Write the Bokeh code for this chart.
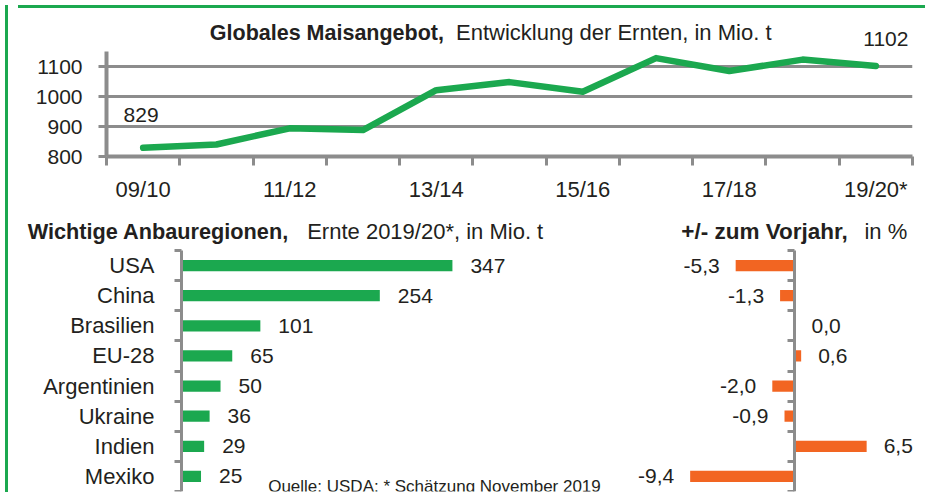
from bokeh.plotting import figure
from bokeh.models import Range1d, FixedTicker, ColumnDataSource, LabelSet, Label, Div
from bokeh.layouts import row, column
from bokeh.core.properties import value
from bokeh.embed import file_html
from bokeh.resources import INLINE

# ---------------- data ----------------
seasons = ["09/10", "10/11", "11/12", "12/13", "13/14", "14/15",
           "15/16", "16/17", "17/18", "18/19", "19/20*"]
supply = [829, 840, 894, 888, 1021, 1048, 1016, 1128, 1085, 1123, 1102]
supply_ticks = [800, 900, 1000, 1100]

regions = ["USA", "China", "Brasilien", "EU-28", "Argentinien",
           "Ukraine", "Indien", "Mexiko"]
harvest = [347, 254, 101, 65, 50, 36, 29, 25]
change = [-5.3, -1.3, 0.0, 0.6, -2.0, -0.9, 6.5, -9.4]

title_top_bold = "Globales Maisangebot,"
title_top_rest = "Entwicklung  der Ernten, in Mio. t"
title_left_bold = "Wichtige Anbauregionen,"
title_left_rest = "Ernte 2019/20*, in Mio. t"
title_right_bold = "+/- zum Vorjahr,"
title_right_rest = "in %"
source_note = "Quelle: USDA: * Schätzung November 2019"

# ---------------- style ----------------
GREEN = "#1ba84f"
ORANGE = "#f26522"
GRAY = "#8c8c8c"
TXT = "#231f20"
FONT = "Liberation Sans"


def style_fig(p):
    p.outline_line_color = None
    p.background_fill_color = "white"
    p.border_fill_color = "white"
    for g in p.grid:
        g.visible = False


def label(p, x, y, text, size, bold=False, align="left", x_off=0, y_off=0):
    p.add_layout(Label(x=x, y=y, text=text, x_offset=x_off, y_offset=y_off,
                       text_font=FONT, text_font_size=size, text_color=TXT,
                       text_font_style="bold" if bold else "normal",
                       text_align=align, text_baseline="middle"))


# ---------------- top: line chart ----------------
n = len(seasons)
xpos = [i + 0.5 for i in range(n)]
src_top = ColumnDataSource(dict(x=xpos, y=supply, season=seasons))

TOP_H, TOP_BB = 205, 62
y_axis_top = 1150                      # upper end of the drawn axis
y_top = 800 + (y_axis_top - 800) * (TOP_H - TOP_BB) / 105.0   # frame also holds the title

top = figure(width=907, height=TOP_H, x_range=Range1d(0, n), y_range=Range1d(800, y_top),
             output_backend="svg", toolbar_location=None,
             min_border_left=93, min_border_right=8, min_border_top=0, min_border_bottom=TOP_BB)
style_fig(top)
top.ygrid.visible = True
top.ygrid.grid_line_color = GRAY
top.ygrid.grid_line_width = 3

xa = top.xaxis[0]
xa.ticker = FixedTicker(ticks=xpos[0::2], minor_ticks=list(range(n + 1)))
xa.major_label_overrides = {xpos[i]: seasons[i] for i in range(0, n, 2)}
xa.major_tick_out = 0
xa.major_tick_in = 0
xa.minor_tick_out = 9
xa.minor_tick_in = 0
xa.minor_tick_line_color = GRAY
xa.minor_tick_line_width = 3
xa.axis_line_color = GRAY
xa.axis_line_width = 4
xa.major_label_text_font = FONT
xa.major_label_text_font_size = "22px"
xa.major_label_text_color = TXT
xa.major_label_standoff = 11

ya = top.yaxis[0]
ya.ticker = FixedTicker(ticks=supply_ticks)
ya.bounds = (800, y_axis_top)
ya.major_tick_out = 8
ya.major_tick_in = 0
ya.major_tick_line_color = GRAY
ya.major_tick_line_width = 3
ya.minor_tick_line_color = None
ya.axis_line_color = GRAY
ya.axis_line_width = 4
ya.major_label_text_font = FONT
ya.major_label_text_font_size = "21px"
ya.major_label_text_color = TXT
ya.major_label_standoff = 16

top.line("x", "y", source=src_top, line_color=GREEN, line_width=6.5,
         line_cap="round", line_join="round")

label(top, xpos[0], supply[0], str(supply[0]), "21px", align="center", x_off=-2, y_off=33)
label(top, xpos[-1], supply[-1], str(supply[-1]), "21px", align="center", x_off=10, y_off=27)
label(top, 1.41, 1212, title_top_bold, "21.5px", bold=True)
label(top, 4.77, 1212, title_top_rest, "22px")

# ---------------- bottom: shared geometry ----------------
m = len(regions)
ypos = [m - 0.5 - i for i in range(m)]
BOT_H, BOT_BB = 279, 6
y_top_bot = m * (BOT_H - BOT_BB) / 241.0     # frame also holds the titles

# ---------------- bottom left: harvest bars ----------------
src_left = ColumnDataSource(dict(y=ypos, v=harvest, t=[str(v) for v in harvest]))
px_per_t = 438 / 561.0
left = figure(width=606, height=BOT_H, x_range=Range1d(-168 / px_per_t, 561),
              y_range=Range1d(0, y_top_bot),
              output_backend="svg", toolbar_location=None,
              min_border_left=0, min_border_right=0, min_border_top=0, min_border_bottom=BOT_BB)
style_fig(left)
left.xaxis.visible = False

la = left.yaxis[0]
la.fixed_location = 0
la.bounds = (0, m)
la.ticker = FixedTicker(ticks=ypos, minor_ticks=list(range(m + 1)))
la.major_label_overrides = {ypos[i]: regions[i] for i in range(m)}
la.major_tick_out = 0
la.major_tick_in = 0
la.minor_tick_out = 7
la.minor_tick_in = 0
la.minor_tick_line_color = GRAY
la.minor_tick_line_width = 3
la.axis_line_color = GRAY
la.axis_line_width = 3
la.major_label_text_font = FONT
la.major_label_text_font_size = "22px"
la.major_label_text_color = TXT
la.major_label_standoff = 20

left.hbar(y="y", left=0, right="v", height=0.37, source=src_left,
          fill_color=GREEN, line_color=None)
left.add_layout(LabelSet(x="v", y="y", text="t", source=src_left, x_offset=18,
                         text_font=value(FONT), text_font_size="21px", text_color=TXT,
                         text_align="left", text_baseline="middle"))

label(left, -197, 8.62, title_left_bold, "21.7px", bold=True)
label(left, 161, 8.62, title_left_rest, "22px")
label(left, 111, 0.17, source_note, "17px")

# ---------------- bottom right: change bars ----------------
fmt = [f"{v:.1f}".replace(".", ",") for v in change]
neg = [i for i in range(m) if change[i] < 0]
pos = [i for i in range(m) if change[i] >= 0]
src_right = ColumnDataSource(dict(y=ypos, v=change))
src_neg = ColumnDataSource(dict(y=[ypos[i] for i in neg], v=[change[i] for i in neg],
                                t=[fmt[i] for i in neg]))
src_pos = ColumnDataSource(dict(y=[ypos[i] for i in pos], v=[change[i] for i in pos],
                                t=[fmt[i] for i in pos]))

px_per_pct = 11.1
right = figure(width=301, height=BOT_H,
               x_range=Range1d(-175 / px_per_pct, (301 - 175) / px_per_pct),
               y_range=Range1d(0, y_top_bot),
               output_backend="svg", toolbar_location=None,
               min_border_left=0, min_border_right=0, min_border_top=0, min_border_bottom=BOT_BB)
style_fig(right)
right.xaxis.visible = False

ra = right.yaxis[0]
ra.fixed_location = 0
ra.bounds = (0, m)
ra.ticker = FixedTicker(ticks=[], minor_ticks=list(range(m + 1)))
ra.major_tick_out = 0
ra.major_tick_in = 0
ra.minor_tick_out = 7
ra.minor_tick_in = 0
ra.minor_tick_line_color = GRAY
ra.minor_tick_line_width = 3
ra.axis_line_color = GRAY
ra.axis_line_width = 3
ra.major_label_text_font_size = "0px"

right.hbar(y="y", left=0, right="v", height=0.37, source=src_right,
           fill_color=ORANGE, line_color=None)
right.add_layout(LabelSet(x="v", y="y", text="t", source=src_neg, x_offset=-16,
                          text_font=value(FONT), text_font_size="21px", text_color=TXT,
                          text_align="right", text_baseline="middle"))
right.add_layout(LabelSet(x="v", y="y", text="t", source=src_pos, x_offset=17,
                          text_font=value(FONT), text_font_size="21px", text_color=TXT,
                          text_align="left", text_baseline="middle"))

label(right, -10.2, 8.62, title_right_bold, "22.5px", bold=True)
label(right, 6.3, 8.62, title_right_rest, "22px")

# ---------------- layout with green frame ----------------
bar_left = Div(width=3, height=487, styles={"background-color": GREEN})
bar_top = Div(width=907, height=3, styles={"background-color": GREEN})
layout = row(bar_left, column(bar_top, top, row(left, right)))

open("out.html", "w").write(file_html(layout, INLINE, title="Globales Maisangebot"))
